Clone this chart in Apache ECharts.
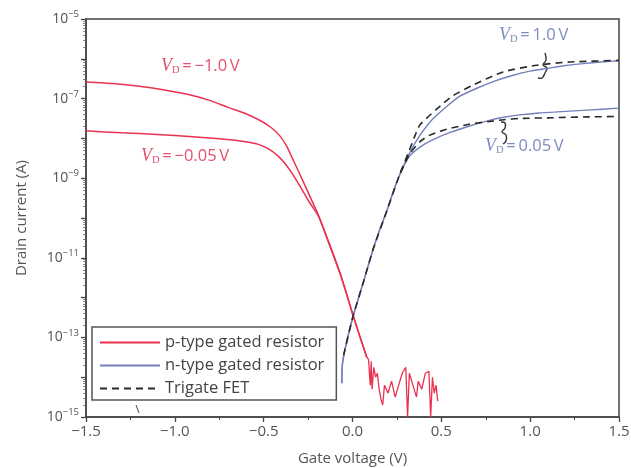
<!DOCTYPE html>
<html>
<head>
<meta charset="utf-8">
<script src="https://cdn.jsdelivr.net/npm/echarts@6/dist/echarts.min.js"></script>
<style>html,body{margin:0;padding:0;background:#fff;}#c{width:631px;height:468px;}</style>
</head>
<body>
<div id="c"></div>
<script>
// Gate voltage (V) and log10 of drain current (A)
const pHighV   = [-1.5,-1.35,-1.2,-1.05,-0.9,-0.8,-0.7,-0.6,-0.52,-0.46,-0.41,-0.37,-0.33,-0.28,-0.23,-0.19,-0.13,-0.07,-0.03,0.0,0.04,0.08];
const pHighLog = [-6.58,-6.62,-6.69,-6.79,-6.92,-7.05,-7.22,-7.38,-7.55,-7.72,-7.93,-8.2,-8.58,-9.06,-9.55,-9.95,-10.65,-11.38,-11.95,-12.39,-12.95,-13.49];
const pNoiseV   = [0.08,0.09,0.10,0.105,0.11,0.12,0.13,0.14,0.15,0.16,0.17,0.18,0.20,0.22,0.24,0.26,0.28,0.30,0.31,0.32,0.34,0.36,0.37,0.39,0.41,0.43,0.44,0.45,0.46,0.47,0.48];
const pNoiseLog = [-13.49,-13.55,-14.2,-13.6,-14.3,-13.75,-14.0,-13.9,-14.3,-14.55,-14.7,-14.2,-14.4,-14.1,-14.5,-14.2,-13.9,-13.75,-15.0,-13.9,-14.2,-14.5,-14.1,-14.3,-13.9,-13.85,-15.0,-14.0,-14.4,-14.2,-14.6];
const pLowV    = [-1.5,-1.3,-1.1,-0.9,-0.75,-0.62,-0.53,-0.47,-0.42,-0.38,-0.34,-0.30,-0.25,-0.19,-0.13,-0.07,-0.03,0.0,0.04,0.08];
const pLowLog  = [-7.81,-7.86,-7.90,-7.96,-8.01,-8.07,-8.15,-8.27,-8.44,-8.63,-8.88,-9.17,-9.55,-9.97,-10.67,-11.40,-11.96,-12.41,-12.96,-13.5];
const nHighV   = [-0.06,-0.055,0.0,0.06,0.115,0.155,0.195,0.23,0.27,0.32,0.38,0.45,0.53,0.6,0.7,0.8,0.9,1.0,1.1,1.2,1.3,1.4,1.5];
const nHighLog = [-14.15,-13.6,-12.52,-11.63,-10.8,-10.27,-9.8,-9.33,-8.87,-8.38,-7.92,-7.52,-7.2,-6.95,-6.74,-6.56,-6.42,-6.31,-6.24,-6.17,-6.12,-6.08,-6.05];
const nLowV    = [-0.06,-0.055,0.0,0.06,0.115,0.155,0.195,0.23,0.27,0.32,0.38,0.45,0.55,0.65,0.76,0.85,0.94,1.05,1.13,1.32,1.5];
const nLowLog  = [-14.15,-13.6,-12.52,-11.63,-10.8,-10.27,-9.8,-9.33,-8.87,-8.45,-8.22,-8.04,-7.85,-7.70,-7.56,-7.47,-7.41,-7.36,-7.34,-7.29,-7.24];
const fHighV   = [-0.05,0.0,0.06,0.115,0.195,0.27,0.32,0.35,0.38,0.475,0.565,0.678,0.847,1.038,1.224,1.5];
const fHighLog = [-13.45,-12.52,-11.63,-10.8,-9.8,-8.85,-8.3,-7.95,-7.66,-7.26,-6.93,-6.66,-6.33,-6.16,-6.08,-6.04];
const fLowV    = [0.27,0.32,0.38,0.43,0.53,0.65,0.76,0.85,0.94,1.13,1.32,1.5];
const fLowLog  = [-8.87,-8.4,-8.08,-7.93,-7.77,-7.65,-7.58,-7.53,-7.50,-7.48,-7.46,-7.45];
const yLabelExps = [-5,-7,-9,-11,-13,-15];

function pts(xs, ls){ return xs.map((x,i)=>[x, Math.pow(10, ls[i])]); }
const RED = '#ea3150', BLUE = '#7480bb', DASH = '#2a2a2a';
const FONT = 'Open Sans';
const chart = echarts.init(document.getElementById('c'), null, {renderer:'canvas'});
const sup = s => s.replace('-', '\u2212');
function vd(label, color){
  return {text:'{v|V}{d|D}{t|\u2009=\u2009'+label+'\u2009V}', rich:{
    v:{fontFamily:'Liberation Serif',fontStyle:'italic',fontSize:18,fill:color},
    d:{fontFamily:'Liberation Serif',fontSize:10.5,fill:color,verticalAlign:'bottom',padding:[8,0,0,0]},
    t:{fontFamily:FONT,fontSize:16.5,fill:color}}};
}
function line(name, data, color, width, dash, smooth, z){
  return {name:name,type:'line',data:data,showSymbol:false,symbol:'none',smooth:smooth,
    lineStyle:{color:color,width:width,type:dash||'solid'},itemStyle:{color:color},z:z};
}
chart.setOption({
  animation:false,
  backgroundColor:'#fff',
  textStyle:{fontFamily:FONT},
  grid:{left:86,right:12,top:19,bottom:51,show:true,borderColor:'#444',borderWidth:1.5,outerBoundsMode:'none',containLabel:false},
  legend:{
    orient:'vertical', left:92, top:327, itemWidth:60, itemHeight:14, itemGap:6,
    borderColor:'#555', borderWidth:1.5, padding:[7,12,3,7], backgroundColor:'#fff',
    itemStyle:{opacity:0},
    textStyle:{fontSize:16.5,color:'#444',fontFamily:FONT},
    data:['p-type gated resistor','n-type gated resistor','Trigate FET']
  },
  xAxis:{
    type:'value', min:-1.5, max:1.5, interval:0.5,
    name:'Gate voltage (V)', nameLocation:'middle', nameGap:34,
    nameTextStyle:{fontSize:15,color:'#555'},
    axisLine:{onZero:false,lineStyle:{color:'#444',width:1.5}},
    axisTick:{show:true,length:5,lineStyle:{color:'#444',width:1.3}},
    minorTick:{show:true,splitNumber:2,length:3,lineStyle:{color:'#444'}},
    splitLine:{show:false},
    axisLabel:{fontSize:15,color:'#555',margin:7,formatter:v=>sup(v.toFixed(1))}
  },
  yAxis:{
    type:'log', logBase:10, min:1e-15, max:1e-5, interval:1,
    name:'Drain current (A)', nameLocation:'middle', nameGap:57,
    nameTextStyle:{fontSize:15,color:'#555'},
    axisLine:{show:true,onZero:false,lineStyle:{color:'#444',width:1.5}},
    axisTick:{show:true,length:5,lineStyle:{color:'#444',width:1.3}},
    minorTick:{show:true,splitNumber:9,length:3,lineStyle:{color:'#666',width:0.8}},
    splitLine:{show:false},
    axisLabel:{margin:7,color:'#555',
      formatter:v=>{const e=Math.round(Math.log10(v)); if(yLabelExps.indexOf(e)<0) return ''; return '{b|10}{s|'+sup(String(e))+'}';},
      rich:{b:{fontSize:14,color:'#555',fontFamily:FONT},s:{fontSize:9.5,color:'#555',fontFamily:FONT,verticalAlign:'bottom',padding:[0,0,9,0]}}
    }
  },
  series:[
    line('p-type gated resistor', pts(pLowV,pLowLog), RED, 1.5, null, 0.2, 3),
    line('p-type gated resistor', pts(pHighV,pHighLog), RED, 1.5, null, 0.2, 3),
    line('p-type gated resistor', pts(pNoiseV,pNoiseLog), RED, 1.3, null, false, 3),
    line('n-type gated resistor', pts(nHighV,nHighLog), BLUE, 1.4, null, 0.2, 2),
    line('n-type gated resistor', pts(nLowV,nLowLog), BLUE, 1.4, null, 0.2, 2),
    line('Trigate FET', pts(fHighV,fHighLog), DASH, 1.6, [7,5], 0.2, 4),
    line('Trigate FET', pts(fLowV,fLowLog), DASH, 1.6, [7,5], 0.2, 4)
  ],
  graphic:[
    {type:'text',x:161,y:57,style:vd('\u22121.0','#e4506a')},
    {type:'text',x:141,y:147,style:vd('\u22120.05','#e4506a')},
    {type:'text',x:499,y:26,style:vd('1.0','#7d8cc0')},
    {type:'text',x:485,y:137,style:vd('0.05','#7d8cc0')},
    {type:'polyline',shape:{points:[[545,53],[546,60],[543,65],[547,68],[545,73],[542,78],[538,78]],smooth:0.4},style:{fill:null,stroke:'#333',lineWidth:1.4}},
    {type:'polyline',shape:{points:[[501,122],[505,123],[505,128],[502,132],[506,135],[506,141],[503,144]],smooth:0.4},style:{fill:null,stroke:'#333',lineWidth:1.4}},
    {type:'line',shape:{x1:136,y1:405,x2:139,y2:413},style:{stroke:'#444',lineWidth:1}}
  ]
});
</script>
</body>
</html>
